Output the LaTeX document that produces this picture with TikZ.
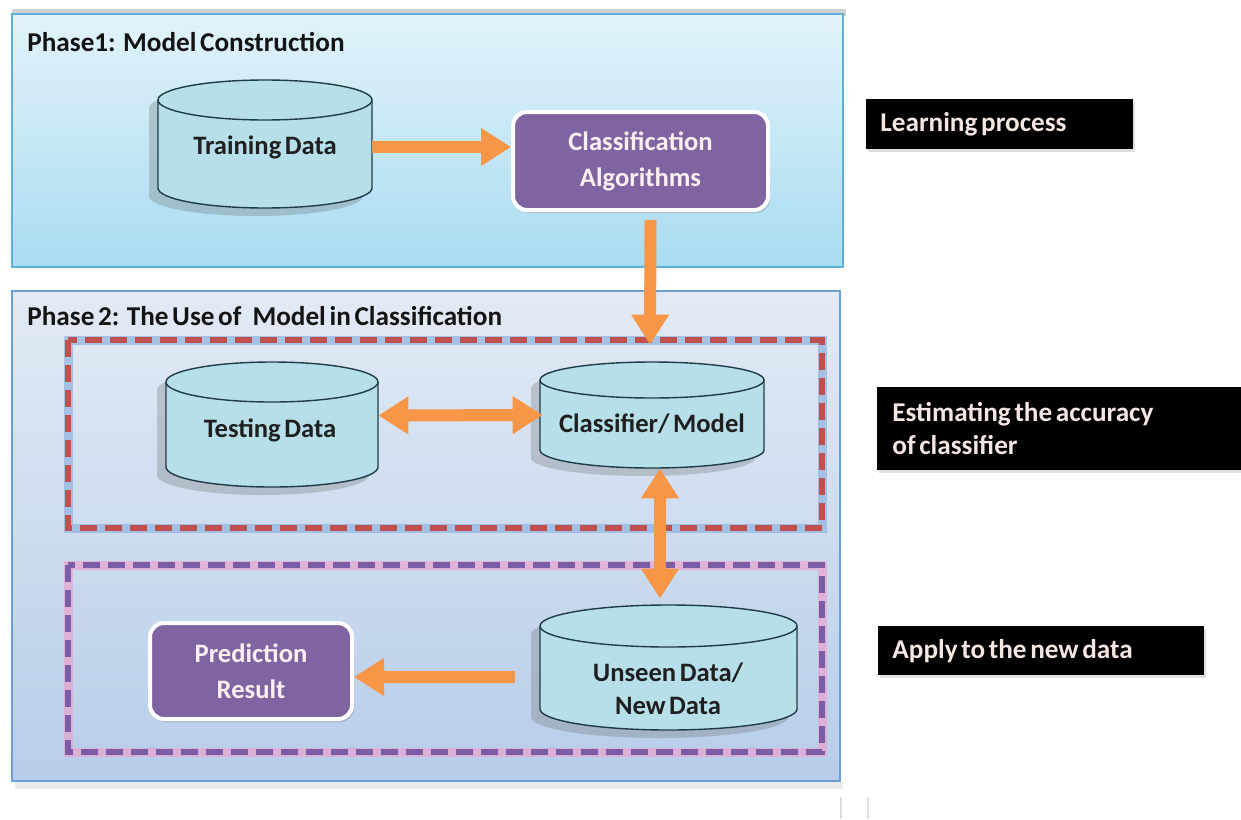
\documentclass[tikz,border=0pt]{standalone}
\usepackage{fontspec}
\setmainfont{Carlito}[WordSpace=0.6]
\usetikzlibrary{arrows.meta,shadows}
\definecolor{phAtop}{HTML}{E2F3FA}
\definecolor{phAbot}{HTML}{A8DCF1}
\definecolor{phAedge}{HTML}{5AB2DA}
\definecolor{phBtop}{HTML}{E2EAF5}
\definecolor{phBbot}{HTML}{B7CDE9}
\definecolor{phBedge}{HTML}{6A9FD6}
\definecolor{cylc}{HTML}{B7DFE9}
\definecolor{cyledge}{HTML}{1F3B47}
\definecolor{purp}{HTML}{8064A2}
\definecolor{boxtext}{HTML}{FBF0F0}
\definecolor{lbltext}{HTML}{F6E6E1}
\definecolor{arrorange}{HTML}{F79646}
\definecolor{dashred}{HTML}{C0504D}
\definecolor{glowblue}{HTML}{93B6E0}
\definecolor{dashpurp}{HTML}{7B5CA6}
\definecolor{glowpink}{HTML}{E8A6D0}

\tikzset{
  cylline/.style={draw=cyledge, line width=0.7pt},
  cylshadow/.style={fill=black!60, opacity=0.28},
  cylanchor/.style={inner sep=0pt, draw=none},
  cyltext/.style={align=center, text=black!88, font=\bfseries\fontsize{13.3}{16.5}\selectfont},
  purplebox/.style={fill=purp, draw=white, line width=2pt, rounded corners=7pt, text=boxtext, align=center,
    drop shadow={shadow xshift=1pt, shadow yshift=-1.5pt, opacity=0.35}, font=\bfseries\fontsize{13.3}{18}\selectfont},
  blacklabel/.style={fill=black, text=lbltext, anchor=north west, align=left, inner xsep=7pt, inner ysep=0pt,
    drop shadow={shadow xshift=1pt, shadow yshift=-1.5pt, opacity=0.25}, font=\bfseries\fontsize{13.6}{16.5}\selectfont},
  phasetitle/.style={anchor=west, inner sep=0pt, text=black!92, font=\bfseries\fontsize{13.6}{15}\selectfont},
  arr/.style={draw=arrorange, line width=6pt, -{Triangle[width=18pt,length=15pt]}},
  darr/.style={draw=arrorange, line width=6pt, {Triangle[width=18pt,length=15pt]}-{Triangle[width=18pt,length=15pt]}},
  glowA/.style={draw=glowblue, line width=4.5pt, opacity=0.75},
  dashA/.style={draw=dashred, line width=2.6pt, dash pattern=on 8.5pt off 4pt},
  glowB/.style={draw=glowpink, line width=4.5pt, opacity=0.75},
  dashB/.style={draw=dashpurp, line width=2.6pt, dash pattern=on 8.5pt off 4pt},
}

\newcommand\drawcyl[5]{%
  \pgfmathsetmacro\cyL{#1}%
  \pgfmathsetmacro\cyR{#2}%
  \pgfmathsetmacro\cyT{#3}%
  \pgfmathsetmacro\cyB{#4}%
  \pgfmathsetmacro\cyr{#5}%
  \pgfmathsetmacro\cyx{(\cyL+\cyR)/2}%
  \pgfmathsetmacro\cykx{0.5523*(\cyR-\cyL)/2}%
  \pgfmathsetmacro\cyky{0.5523*\cyr}%
  \fill[cylshadow, shift={(-9,8)}] (\cyL,\cyT) .. controls (\cyL,\cyT-\cyky) and (\cyx-\cykx,\cyT-\cyr) .. (\cyx,\cyT-\cyr) .. controls (\cyx+\cykx,\cyT-\cyr) and (\cyR,\cyT-\cyky) .. (\cyR,\cyT) -- (\cyR,\cyB) .. controls (\cyR,\cyB+\cyky) and (\cyx+\cykx,\cyB+\cyr) .. (\cyx,\cyB+\cyr) .. controls (\cyx-\cykx,\cyB+\cyr) and (\cyL,\cyB+\cyky) .. (\cyL,\cyB) -- cycle;
  \fill[cylc] (\cyL,\cyT) .. controls (\cyL,\cyT-\cyky) and (\cyx-\cykx,\cyT-\cyr) .. (\cyx,\cyT-\cyr) .. controls (\cyx+\cykx,\cyT-\cyr) and (\cyR,\cyT-\cyky) .. (\cyR,\cyT) -- (\cyR,\cyB) .. controls (\cyR,\cyB+\cyky) and (\cyx+\cykx,\cyB+\cyr) .. (\cyx,\cyB+\cyr) .. controls (\cyx-\cykx,\cyB+\cyr) and (\cyL,\cyB+\cyky) .. (\cyL,\cyB) -- cycle;
  \draw[cylline] (\cyL,\cyT) .. controls (\cyL,\cyT-\cyky) and (\cyx-\cykx,\cyT-\cyr) .. (\cyx,\cyT-\cyr) .. controls (\cyx+\cykx,\cyT-\cyr) and (\cyR,\cyT-\cyky) .. (\cyR,\cyT) -- (\cyR,\cyB) .. controls (\cyR,\cyB+\cyky) and (\cyx+\cykx,\cyB+\cyr) .. (\cyx,\cyB+\cyr) .. controls (\cyx-\cykx,\cyB+\cyr) and (\cyL,\cyB+\cyky) .. (\cyL,\cyB) -- cycle;
  \draw[cylline] (\cyL,\cyT) .. controls (\cyL,\cyT+\cyky) and (\cyx-\cykx,\cyT+\cyr) .. (\cyx,\cyT+\cyr) .. controls (\cyx+\cykx,\cyT+\cyr) and (\cyR,\cyT+\cyky) .. (\cyR,\cyT);
}

\begin{document}
\begin{tikzpicture}[x=0.5pt,y=-0.5pt]
\useasboundingbox (0,0) rectangle (1241,819);
\fill[white] (0,0) rectangle (1241,819);

% Phase 1 panel
\fill[black!40, opacity=0.45] (12,9) rectangle (846,16);
\shade[top color=phAtop, bottom color=phAbot] (12,14) rectangle (843,267);
\draw[phAedge, line width=1pt] (12,14) rectangle (843,267);
\node[phasetitle] (title1) at (27,42) {Phase1:\ \ Model Construction};

% Phase 2 panel
\fill[black!30, opacity=0.25] (15,782) rectangle (843,789);
\shade[top color=phBtop, bottom color=phBbot] (12,291) rectangle (840,781);
\draw[phBedge, line width=1pt] (12,291) rectangle (840,781);
\node[phasetitle] (title2) at (27,316) {Phase 2:\ \ The Use of\ \ \ Model in Classification};

% dashed groups
\draw[glowA] (68,340) rectangle (822,528);
\draw[dashA] (68,340) rectangle (822,528);
\draw[glowB] (68,565) rectangle (822,752);
\draw[dashB] (68,565) rectangle (822,752);

% cylinders
\drawcyl{158}{372}{100}{188}{20}
\node[cylanchor, minimum width=107pt, minimum height=64pt] (train) at (265,144) {};
\node[cyltext] (trainlbl) at (265,147) {Training Data};

\drawcyl{166}{378}{382}{467}{20}
\node[cylanchor, minimum width=106pt, minimum height=62.5pt] (test) at (272,424.5) {};
\node[cyltext] (testlbl) at (270,430) {Testing Data};

\drawcyl{540}{764}{380}{450}{18}
\node[cylanchor, minimum width=112pt, minimum height=53pt] (clf) at (652,415) {};
\node[cyltext] (clflbl) at (652,424) {Classifier/ Model};

\drawcyl{540}{797}{626}{709}{21}
\node[cylanchor, minimum width=128.5pt, minimum height=62.5pt] (unseen) at (668.5,667.5) {};
\node[cyltext] (unseenlbl) at (668,689) {Unseen Data/\\New Data};

% purple boxes
\node[purplebox, minimum width=127.5pt, minimum height=49pt] (cls) at (640.5,161) {Classification\\Algorithms};
\node[purplebox, minimum width=101pt, minimum height=48pt] (pred) at (251,671) {Prediction\\Result};

% arrows
\draw[arr] ([yshift=-1.5pt]train.east) -- ([yshift=7pt]cls.west);
\draw[arr] ([xshift=5pt,yshift=-4pt]cls.south) -- ([xshift=-1pt,yshift=8.5pt]clf.north);
\draw[darr] ([yshift=4.5pt]test.east) -- ([xshift=1.5pt]clf.west);
\draw[darr] ([xshift=4pt]clf.south) -- ([xshift=-4.25pt,yshift=3pt]unseen.north);
\draw[arr] ([xshift=-12.5pt,yshift=-4.75pt]unseen.west) -- ([yshift=-3pt]pred.east);

% black labels
\node[blacklabel, minimum height=25pt, text width=119.5pt] (lab1) at (866,99) {\spaceskip=0pt\relax Learning process};
\node[blacklabel, minimum height=41.5pt, inner xsep=7.5pt, text width=167pt] (lab2) at (877,387) {\spaceskip=0pt\relax Estimating the accuracy\\of classifier};
\node[blacklabel, minimum height=24.5pt, text width=149pt] (lab3) at (878,626) {\spaceskip=0pt\relax Apply to the new data};

% faint ticks
\draw[black!12, line width=1pt] (841,797) -- (841,819);
\draw[black!12, line width=1pt] (868,797) -- (868,819);
\end{tikzpicture}
\end{document}
